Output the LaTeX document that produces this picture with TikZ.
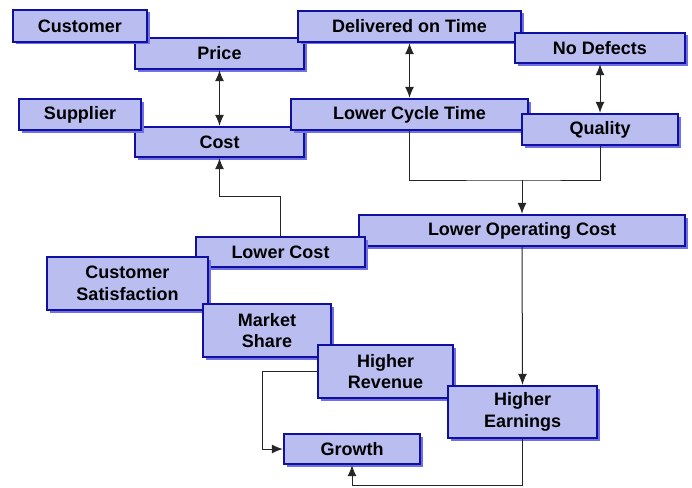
\documentclass[tikz,border=0pt]{standalone}
\usepackage{fontspec}
\setmainfont{Liberation Sans}
\usetikzlibrary{arrows.meta,shadows}
\definecolor{boxfill}{RGB}{186,189,240}
\definecolor{boxline}{RGB}{16,16,160}
\definecolor{boxshadow}{RGB}{112,112,228}
\tikzset{
  box/.style    = { draw=boxline, fill=boxfill, line width=2.4pt, inner sep=0pt,
                    align=center, font=\bfseries\fontsize{18}{21.5}\selectfont,
                    drop shadow={shadow xshift=2.5pt, shadow yshift=-2.5pt,
                                 fill=boxshadow, opacity=1} },
  link/.style   = { draw=black!85, line width=1pt },
  oneway/.style = { link, -{Latex[length=11pt,width=9pt]} },
  twoway/.style = { link, {Latex[length=11pt,width=9pt]}-{Latex[length=11pt,width=9pt]} },
  dims/.style 2 args = { minimum width=#1pt, minimum height=#2pt }
}

\begin{document}
\begin{tikzpicture}[x=1pt, y=-1pt]
\useasboundingbox (0,0) rectangle (692,487);

% top rows, back to front
\node[box, dims={169}{31}] (price)    at (219.5,53.5) {Price};
\node[box, dims={134}{32}] (customer) at (80,26)      {Customer};
\node[box, dims={223}{31}] (ontime)   at (409.5,26.5) {Delivered on Time};
\node[box, dims={170}{30}] (nodefect) at (600,48)     {No Defects};
\node[box, dims={169}{30}] (cost)     at (219.5,142)  {Cost};
\node[box, dims={122}{31}] (supplier) at (80,114.5)   {Supplier};
\node[box, dims={237}{31}] (cycle)    at (409.5,114.5){Lower Cycle Time};
\node[box, dims={156}{31}] (quality)  at (600,129.5)  {Quality};

% middle and lower part
\node[box, dims={326}{31}] (opcost)   at (522,230.5)  {Lower Operating Cost};
\node[box, dims={169}{30}] (lowcost)  at (280.5,252)  {Lower Cost};
\node[box, dims={161}{53}] (satisf)   at (127.5,283.5){Customer\\Satisfaction};
\node[box, dims={128}{53}] (share)    at (267,330.5)  {Market\\Share};
\node[box, dims={135}{53}] (revenue)  at (385.5,371.5){Higher\\Revenue};
\node[box, dims={149}{52}] (earnings) at (522.5,412)  {Higher\\Earnings};
\node[box, dims={136}{30}] (growth)   at (352,449)    {Growth};

% connectors
\coordinate (join) at (522,180);
\draw[twoway] (price.south) -- (cost.north);
\draw[twoway] (ontime.south) -- (cycle.north);
\draw[twoway] (nodefect.south) -- (quality.north);
\draw[link] (cycle.south) |- (join) -| (quality.south);
\draw[oneway] (join) -- (opcost.north);
\draw[oneway] (lowcost.north) -- ++(0,-39) -| (cost.south);
\draw[oneway] (opcost.south) -- (earnings.north);
\draw[oneway] (revenue.west) -- ++(-54,0) |- (growth.west);
\draw[oneway] (earnings.south) -- ++(0,46) -| (growth.south);
\end{tikzpicture}
\end{document}
